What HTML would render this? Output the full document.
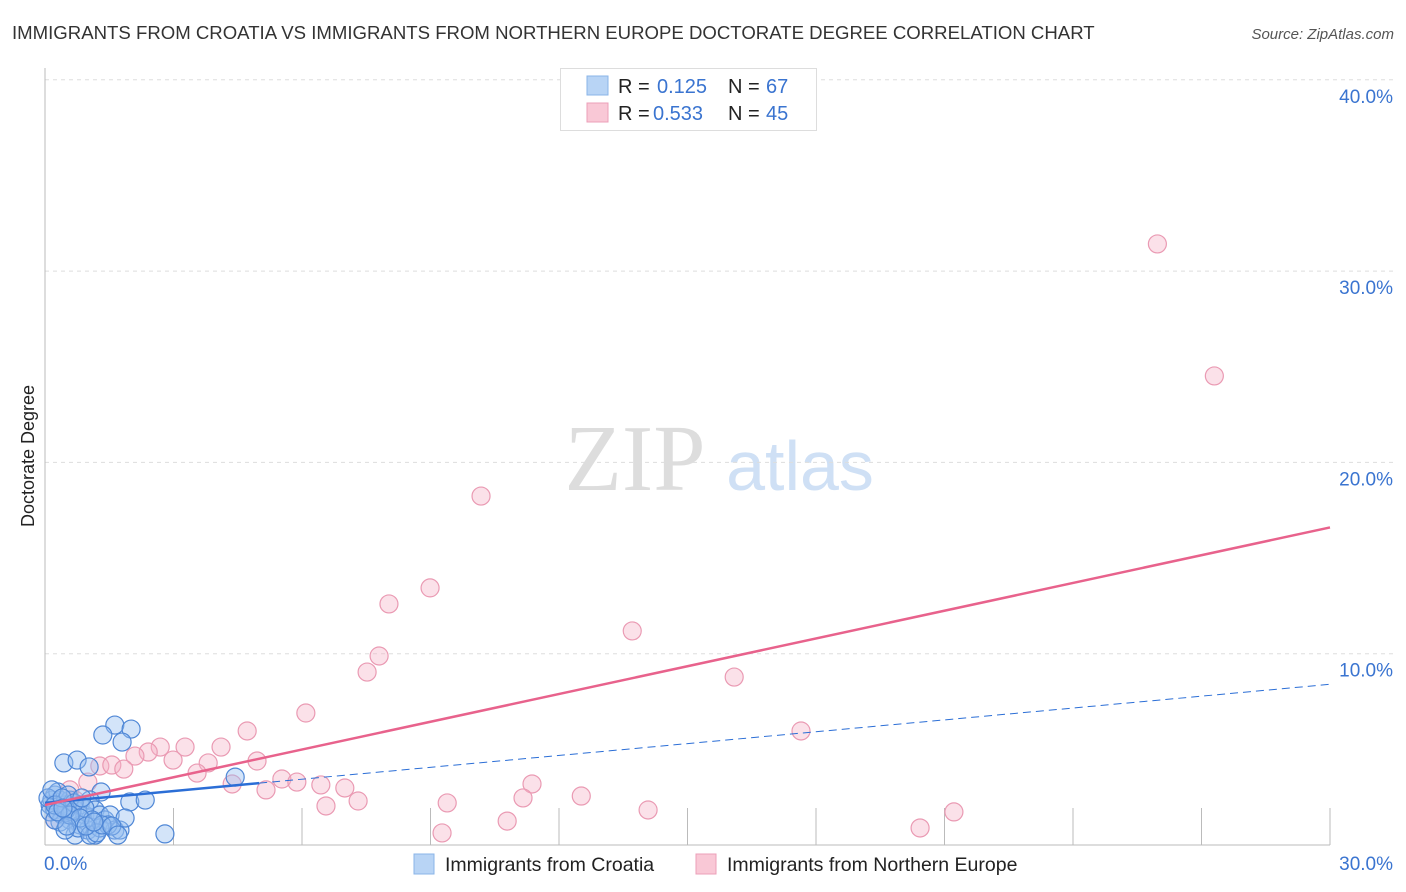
<!DOCTYPE html>
<html><head><meta charset="utf-8"><style>
body{margin:0;background:#fff;font-family:"Liberation Sans",sans-serif;}
svg{display:block}
</style></head><body>
<svg id="chart" width="1406" height="892">
<text x="12" y="39" font-size="18.6" fill="#333">IMMIGRANTS FROM CROATIA VS IMMIGRANTS FROM NORTHERN EUROPE DOCTORATE DEGREE CORRELATION CHART</text>
<text x="1394" y="39" font-size="15" fill="#555" font-style="italic" text-anchor="end">Source: ZipAtlas.com</text>
<text x="34" y="456" font-size="18" fill="#222" text-anchor="middle" transform="rotate(-90 34 456)">Doctorate Degree</text>
<g>
<text x="635" y="490" font-size="94" fill="#ddd" font-family="Liberation Serif,serif" text-anchor="middle">ZIP</text>
<text x="800" y="490" font-size="70" fill="#cfe0f5" text-anchor="middle">atlas</text>
</g>
<g id="grid"></g>
<g id="axes"></g>
<g id="marks"></g>
<g>
<rect x="560.5" y="68.5" width="256" height="62" fill="#fff" stroke="#ddd"/>
<rect x="587" y="76" width="21" height="19" fill="#b8d4f5" stroke="#8ab4e8"/>
<rect x="587" y="103" width="21" height="19" fill="#f9c8d6" stroke="#ec9fb8"/>
<text y="93" font-size="20"><tspan x="618" fill="#222">R = </tspan><tspan x="657" fill="#3a74d0">0.125</tspan><tspan x="728" fill="#222">N = </tspan><tspan x="766" fill="#3a74d0">67</tspan></text>
<text y="120" font-size="20"><tspan x="618" fill="#222">R = </tspan><tspan x="653" fill="#3a74d0">0.533</tspan><tspan x="728" fill="#222">N = </tspan><tspan x="766" fill="#3a74d0">45</tspan></text>
</g>
<g>
<rect x="414" y="854" width="20" height="20" fill="#b8d4f5" stroke="#8ab4e8"/>
<text x="445" y="871" font-size="19.5" fill="#222">Immigrants from Croatia</text>
<rect x="696" y="854" width="20" height="20" fill="#f9c8d6" stroke="#ec9fb8"/>
<text x="727" y="871" font-size="19.5" fill="#222">Immigrants from Northern Europe</text>
</g>
</svg>
<script>
const yTicks=[10,20,30,40];
const yTickLabels=["10.0%","20.0%","30.0%","40.0%"];
const xTickLabels=["0.0%","30.0%"];
const croatiaX=[1.63,2.01,1.35,1.80,0.44,0.75,1.03,1.31,1.98,2.34,4.44,2.80,0.23,0.35,0.12,0.23,0.47,0.58,0.70,0.82,0.40,0.58,0.82,0.93,1.05,1.17,1.28,1.40,1.52,1.63,1.75,1.87,1.00,1.17,1.28,0.70,0.35,0.16,0.30,0.54,0.63,0.93,1.10,1.47,0.77,0.47,0.12,0.23,0.07,0.16,0.49,0.68,0.86,1.05,1.21,1.33,1.56,1.70,0.23,0.40,0.58,0.82,0.30,0.42,0.51,0.96,1.14];
const croatiaY=[6.27,6.06,5.75,5.38,4.29,4.44,4.08,2.77,2.25,2.35,3.55,0.58,2.61,2.35,2.09,1.83,2.09,2.35,1.83,2.09,1.57,1.31,1.05,1.57,2.35,1.83,1.57,1.31,1.57,0.78,0.78,1.41,0.78,0.52,0.89,0.52,1.20,2.35,2.77,2.61,1.73,1.93,1.31,1.05,0.89,0.78,1.73,1.31,2.46,2.88,1.83,2.20,2.46,0.52,0.63,1.05,0.99,0.52,2.09,2.46,1.57,1.41,1.73,1.93,0.99,0.99,1.20];
const northX=[25.97,27.30,10.18,8.99,8.03,13.71,7.80,7.52,16.09,6.09,4.72,17.65,2.69,3.27,4.11,2.41,2.10,2.99,3.81,4.95,1.28,1.56,1.84,3.55,5.53,5.88,6.44,7.00,4.37,5.16,11.37,12.52,11.16,9.39,7.31,6.56,14.08,21.22,10.79,9.27,20.43,0.58,1.00,0.70,0.23];
const northY=[31.42,24.52,18.24,13.44,12.60,11.19,9.88,9.04,8.78,6.90,5.96,5.96,5.12,5.12,5.12,4.86,4.65,4.44,4.29,4.39,4.13,4.18,3.97,3.76,3.45,3.29,3.14,2.98,3.19,2.88,3.19,2.56,2.46,2.20,2.30,2.04,1.83,1.73,1.25,0.63,0.89,2.88,3.29,2.35,1.31];
const croatiaTrend=[2.2,8.4];
const northTrend=[2.09,16.6];
const NS="http://www.w3.org/2000/svg";
const X0=45,X1=1330,Y0=845,PX=19.13;
const sx=v=>X0+v/30*(X1-X0);
const sy=v=>Y0-v*PX;
function mk(tag,attrs,parent){const e=document.createElementNS(NS,tag);for(const k in attrs)e.setAttribute(k,attrs[k]);parent.appendChild(e);return e;}
const grid=document.getElementById('grid'),axes=document.getElementById('axes'),marks=document.getElementById('marks');
yTicks.forEach((t,i)=>{
 const l=mk('line',{x1:X0,x2:1393,y1:sy(t),y2:sy(t),stroke:'#ddd','stroke-dasharray':'4,4'},grid);
 
 
 const tx=mk('text',{x:1393,y:sy(t)+23,'font-size':19,fill:'#3a74d0','text-anchor':'end'},axes);
 tx.textContent=yTickLabels[i];
 
 
});
mk('line',{x1:X0,x2:X0,y1:68,y2:Y0,stroke:'#bbb'},axes);
mk('line',{x1:X0,x2:X1,y1:Y0,y2:Y0,stroke:'#bbb'},axes);
for(let i=1;i<=10;i++){const x=X0+i*(X1-X0)/10;mk('line',{x1:x,x2:x,y1:808,y2:Y0,stroke:'#bbb'},axes);}
[[0,'start',44],[30,'end',1393]].forEach((p,i)=>{
 const tx=mk('text',{x:p[2],y:870,'font-size':19,fill:'#3a74d0','text-anchor':p[1]},axes);
 tx.textContent=xTickLabels[i];
 
 
});
northX.forEach((v,i)=>{
 const c=mk('circle',{cx:sx(v),cy:sy(northY[i]),r:9,fill:'rgba(245,175,198,0.38)',stroke:'#ea9ab3','stroke-width':1.2},marks);
 
 
});
croatiaX.forEach((v,i)=>{
 const c=mk('circle',{cx:sx(v),cy:sy(croatiaY[i]),r:9,fill:'rgba(150,190,240,0.42)',stroke:'#4f87d6','stroke-width':1.2},marks);
 
 
});
const cEnd=5;
const ct=mk('line',{x1:sx(0),y1:sy(croatiaTrend[0]),x2:sx(cEnd),y2:sy(croatiaTrend[0]+(croatiaTrend[1]-croatiaTrend[0])*cEnd/30),stroke:'#2b6ed6','stroke-width':2.5},marks);


const cd=mk('line',{x1:sx(cEnd),y1:sy(croatiaTrend[0]+(croatiaTrend[1]-croatiaTrend[0])*cEnd/30),x2:sx(30),y2:sy(croatiaTrend[1]),stroke:'#2b6ed6','stroke-width':1,'stroke-dasharray':'8,5'},marks);


const nt=mk('line',{x1:sx(0),y1:sy(northTrend[0]),x2:sx(30),y2:sy(northTrend[1]),stroke:'#e8628c','stroke-width':2.5},marks);


</script>
</body></html>
